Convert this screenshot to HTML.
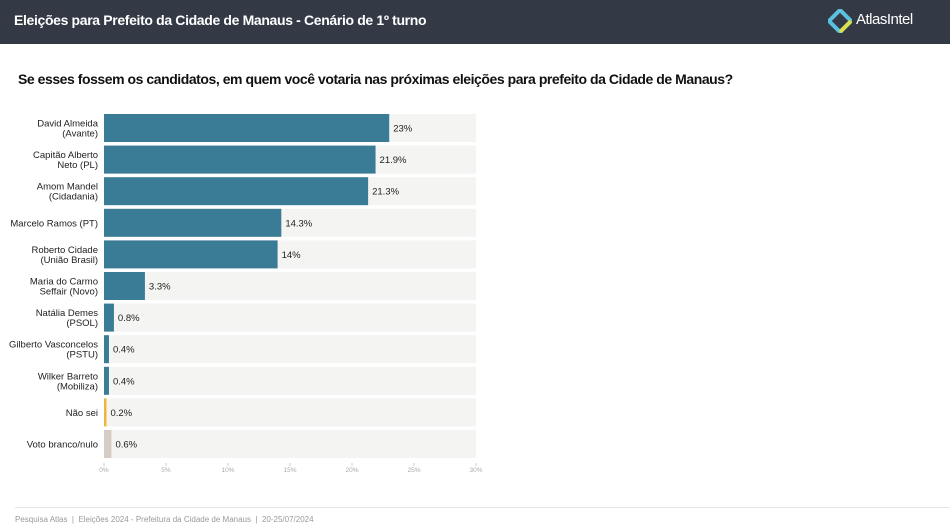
<!DOCTYPE html>
<html><head><meta charset="utf-8"><style>
body{margin:0;width:950px;height:530px;background:#fff;font-family:"Liberation Sans",sans-serif;position:relative;overflow:hidden}
.hdr{position:absolute;left:0;top:0;width:950px;height:44px;background:#333a46}
.hdr .t{position:absolute;left:14px;top:12px;color:#fff;font-size:14px;font-weight:bold;letter-spacing:-0.35px}
.logo{position:absolute;left:828px;top:9px}
.logo span{position:absolute;left:28px;top:2px;color:#fff;font-size:15px;white-space:nowrap;letter-spacing:-0.5px}
.q{position:absolute;left:18px;top:71px;font-size:14px;font-weight:bold;color:#111;letter-spacing:-0.45px}
.foot-line{position:absolute;left:15px;top:507px;width:935px;height:1px;background:#e4e4e4}
.foot{position:absolute;left:15px;top:515px;font-size:8px;color:#999}
</style></head><body>
<div class="hdr">
<div class="t">Eleições para Prefeito da Cidade de Manaus - Cenário de 1º turno</div>
<div class="logo">
<svg width="24" height="24" viewBox="0 0 24 24"><path d="M12 1 L23 12 L12 23 L1 12 Z" fill="none" stroke="#5bc0de" stroke-width="4"/><path d="M12 23 L23 12" stroke="#d8e04a" stroke-width="4"/></svg>
<span>AtlasIntel</span></div>
</div>
<div class="q">Se esses fossem os candidatos, em quem você votaria nas próximas eleições para prefeito da Cidade de Manaus?</div>
<svg id="chart" width="950" height="530" style="position:absolute;left:0;top:0"></svg>
<div class="foot-line"></div>
<div class="foot">Pesquisa Atlas &nbsp;|&nbsp; Eleições 2024 - Prefeitura da Cidade de Manaus &nbsp;|&nbsp; 20-25/07/2024</div>
<script>
const categories=[["David Almeida","(Avante)"],["Capitão Alberto","Neto (PL)"],["Amom Mandel","(Cidadania)"],["Marcelo Ramos (PT)"],["Roberto Cidade","(União Brasil)"],["Maria do Carmo","Seffair (Novo)"],["Natália Demes","(PSOL)"],["Gilberto Vasconcelos","(PSTU)"],["Wilker Barreto","(Mobiliza)"],["Não sei"],["Voto branco/nulo"]];
const values=[23,21.9,21.3,14.3,14,3.3,0.8,0.4,0.4,0.2,0.6];
const labels=["23%","21.9%","21.3%","14.3%","14%","3.3%","0.8%","0.4%","0.4%","0.2%","0.6%"];
const ticks=[0,5,10,15,20,25,30];
const x0=104,x1=476,maxV=30,top0=114,pitch=31.6,bh=28;
const x=v=>x0+(v/maxV)*(x1-x0);
const y=i=>top0+i*pitch;
const svg=document.getElementById('chart');
const NS='http://www.w3.org/2000/svg';
function mk(t,a){const e=document.createElementNS(NS,t);for(const k in a)e.setAttribute(k,a[k]);svg.appendChild(e);return e;}
categories.forEach((c,i)=>{
  const bg=mk('rect',{x:x0,y:y(i),width:x1-x0,height:bh,fill:'#f4f4f2'});
  
  
  const col=i==9?'#e8b83a':(i==10?'#d6cbc5':'#3a7b96');
  const w=Math.max(x(values[i])-x0,2);
  const b=mk('rect',{x:x0,y:y(i),width:w,height:bh,fill:col});
  
  
  const vl=mk('text',{x:x0+w+4,y:y(i)+bh/2+3.5,'font-size':'9.5',fill:'#222'});
  vl.textContent=labels[i];
  
  
  const n=c.length;
  c.forEach((line,j)=>{
    const t=mk('text',{x:98,y:y(i)+bh/2+3.5+(j-(n-1)/2)*10,'font-size':'9.5',fill:'#222','text-anchor':'end'});
    t.textContent=line;
    
    
  });
});
ticks.forEach(v=>{
  const l=mk('line',{x1:x(v),x2:x(v),y1:463,y2:466,stroke:'#ccc','stroke-width':1});
  
  
  const t=mk('text',{x:x(v),y:472,'font-size':'6.5',fill:'#aaa','text-anchor':'middle'});
  t.textContent=v+'%';
  
  
});
</script>
</body></html>
